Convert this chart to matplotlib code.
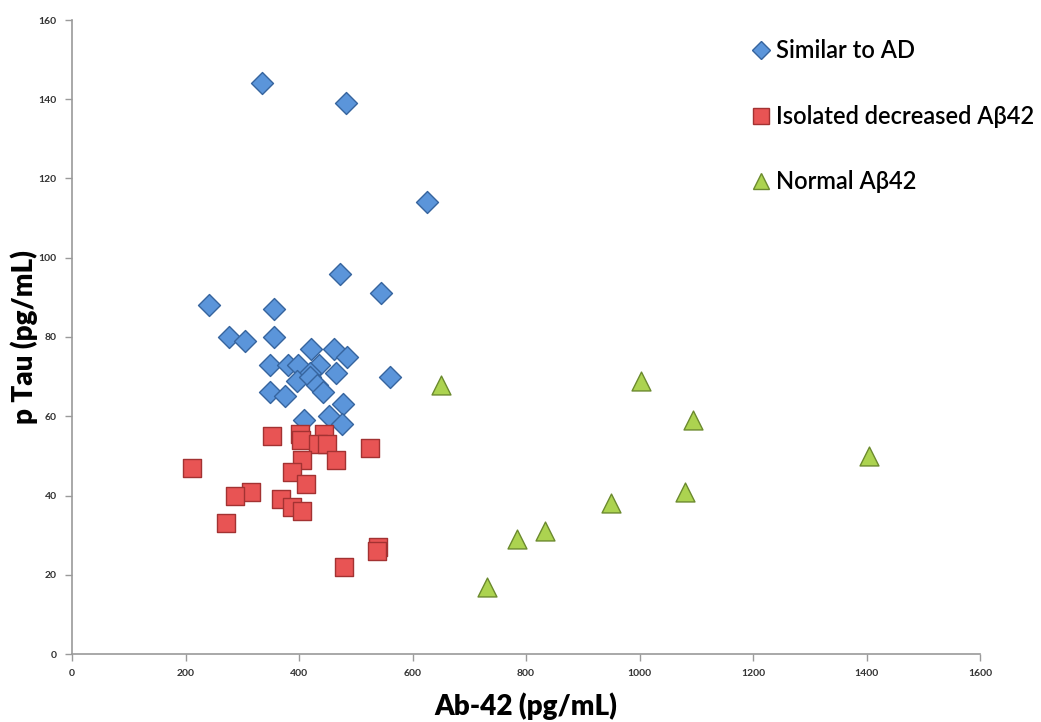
import matplotlib
matplotlib.use("Agg")
import matplotlib.pyplot as plt
from matplotlib.lines import Line2D

# Data
ad_x = [334, 482, 626, 472, 544, 241, 356, 277, 304, 356, 421, 462, 484, 349, 381,
        399, 436, 419, 465, 560, 397, 419, 431, 443, 349, 376, 478, 408, 452, 475]
ad_y = [144, 139, 114, 96, 91, 88, 87, 80, 79, 80, 77, 77, 75, 73, 73,
        73, 73, 71, 71, 70, 69, 70, 68, 66, 66, 65, 63, 59, 60, 58]

iso_x = [352, 402, 403, 444, 434, 449, 525, 211, 405, 465, 388, 412, 315, 287,
         368, 387, 405, 271, 540, 537, 479]
iso_y = [55, 55.5, 54, 55.5, 53, 53, 52, 47, 49, 49, 46, 43, 41, 40,
         39, 37, 36, 33, 27, 26, 22]

norm_x = [651, 1002, 1095, 1405, 1081, 949, 833, 785, 732]
norm_y = [68, 69, 59, 50, 41, 38, 31, 29, 17]

labels = ["Similar to AD", "Isolated decreased A\u03b242", "Normal A\u03b242"]
x_ticks = [0, 200, 400, 600, 800, 1000, 1200, 1400, 1600]
y_ticks = [0, 20, 40, 60, 80, 100, 120, 140, 160]

plt.rcParams['font.family'] = ['Lato', 'DejaVu Sans']

fig = plt.figure(figsize=(10.41, 7.22), dpi=100)
ax = fig.add_axes([72/1041, 68/722, 908/1041, 634/722])

blue_f, blue_e = "#5b95da", "#36649e"
red_f, red_e = "#e85454", "#a33232"
green_f, green_e = "#acd350", "#6b8a2e"

ax.scatter(ad_x, ad_y, marker='D', s=125, c=blue_f, edgecolors=blue_e,
           linewidths=1.0, zorder=3)
ax.scatter(iso_x, iso_y, marker='s', s=175, c=red_f, edgecolors=red_e,
           linewidths=1.0, zorder=4)
ax.scatter(norm_x, norm_y, marker='^', s=185, c=green_f, edgecolors=green_e,
           linewidths=1.0, zorder=5)

ax.set_xlim(0, 1600)
ax.set_ylim(0, 160)
ax.set_xticks(x_ticks)
ax.set_yticks(y_ticks)
ax.set_xticklabels([str(t) for t in x_ticks], fontsize=7.5, fontweight='bold', color='#333333')
ax.set_yticklabels([str(t) for t in y_ticks], fontsize=7.5, fontweight='bold', color='#333333')
for s in ['top', 'right']:
    ax.spines[s].set_visible(False)
for s in ['left', 'bottom']:
    ax.spines[s].set_color('#9a9a9a')
    ax.spines[s].set_linewidth(1.2)
ax.tick_params(axis='both', direction='out', length=5, width=1, color='#9a9a9a', pad=6)

ax.set_xlabel("Ab-42 (pg/mL)", fontsize=20, fontweight='heavy', labelpad=10)
ax.set_ylabel("p Tau (pg/mL)", fontsize=20, fontweight='heavy', labelpad=0)

handles = [
    Line2D([], [], marker='D', linestyle='none', markersize=9, markerfacecolor=blue_f, markeredgecolor=blue_e),
    Line2D([], [], marker='s', linestyle='none', markersize=11, markerfacecolor=red_f, markeredgecolor=red_e),
    Line2D([], [], marker='^', linestyle='none', markersize=11, markerfacecolor=green_f, markeredgecolor=green_e),
]
fig.legend(handles, labels, loc='upper left', bbox_to_anchor=(742/1041, 1 - 30/722),
           frameon=False, labelspacing=1.8, handlelength=0.8,
           handletextpad=0.25, borderaxespad=0,
           prop={'size': 17, 'weight': 'semibold'})

fig.savefig("out.png", dpi=100)
